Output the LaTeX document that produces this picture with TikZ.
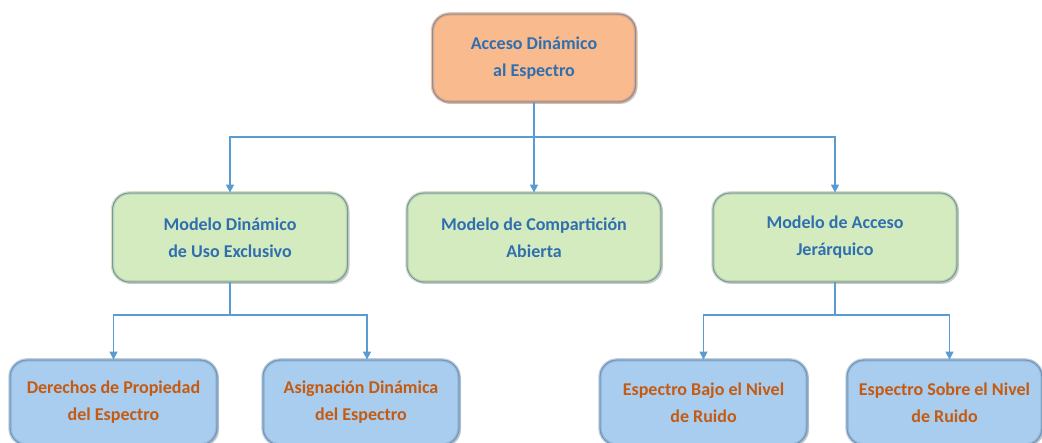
\documentclass[tikz,border=0pt]{standalone}
\usepackage{fontspec}
\setmainfont{Carlito}
\usetikzlibrary{arrows.meta,shadows,calc}
\definecolor{orfill}{HTML}{F9BB8D}
\definecolor{grfill}{HTML}{D4EBBF}
\definecolor{blfill}{HTML}{A9CDEF}
\definecolor{orrim}{HTML}{D9946A}
\definecolor{grrim}{HTML}{AFC698}
\definecolor{blrim}{HTML}{86A9CC}
\definecolor{bordc}{HTML}{7393B3}
\definecolor{txtblue}{HTML}{2F6FB0}
\definecolor{txtor}{HTML}{C55A11}
\definecolor{linec}{HTML}{5B9BD5}
\tikzset{
  box/.style={rectangle, rounded corners=17pt, draw=bordc, line width=0.8pt,
    align=center, font=\fontsize{18}{27}\selectfont\bfseries,
    drop shadow={shadow xshift=2pt, shadow yshift=-2pt, opacity=0.35},
    postaction={draw=#1, line width=3.5pt, opacity=0.55},
    postaction={draw=bordc, line width=0.8pt}},
  topbox/.style={box=orrim, fill=orfill, text=txtblue},
  midbox/.style={box=grrim, fill=grfill, text=txtblue, minimum height=89pt},
  lowbox/.style={box=blrim, fill=blfill, text=txtor, minimum height=85pt},
  conn/.style={draw=linec, line width=1.4pt},
  arr/.style={conn, -{Triangle[width=8pt,length=8pt]}}
}
\begin{document}
\begin{tikzpicture}[x=1pt,y=-1pt]
\useasboundingbox (0,0) rectangle (1042,443);
\node[topbox, minimum width=203pt, minimum height=88pt] (top) at (534,58) {Acceso Dinámico\\al Espectro};
\node[midbox, minimum width=235pt] (m1) at (230,237.5) {Modelo Dinámico\\de Uso Exclusivo};
\node[midbox, minimum width=254pt] (m2) at (534,237.5) {Modelo de Compartición\\Abierta};
\node[midbox, minimum width=244pt] (m3) at (835,237.5) {Modelo de Acceso\\Jerárquico};
\node[lowbox, minimum width=207pt] (b1) at (113.5,402.5) {Derechos de Propiedad\\del Espectro};
\node[lowbox, minimum width=196pt] (b2) at (361,402.5) {Asignación Dinámica\\del Espectro};
\node[lowbox, minimum width=207pt] (b3) at (703.5,402.5) {Espectro Bajo el Nivel\\de Ruido};
\node[lowbox, minimum width=195pt] (b4) at (944.5,402.5) {Espectro Sobre el Nivel\\de Ruido};
\coordinate (h1) at (534,137);
\coordinate (h2) at (230,315);
\coordinate (h3) at (835,315);
\draw[conn] (top.south) -- (h1);
\draw[arr] (h1) -| (m1.north);
\draw[arr] (h1) -| (m3.north);
\draw[arr] (h1) -- (m2.north);
\draw[conn] (m1.south) -- (h2);
\draw[arr] (h2) -| (b1.north);
\draw[arr] (h2) -| ($(b2.north)+(6,0)$);
\draw[conn] (m3.south) -- (h3);
\draw[arr] (h3) -| (b3.north);
\draw[arr] (h3) -| ($(b4.north)+(5,0)$);
\end{tikzpicture}
\end{document}
